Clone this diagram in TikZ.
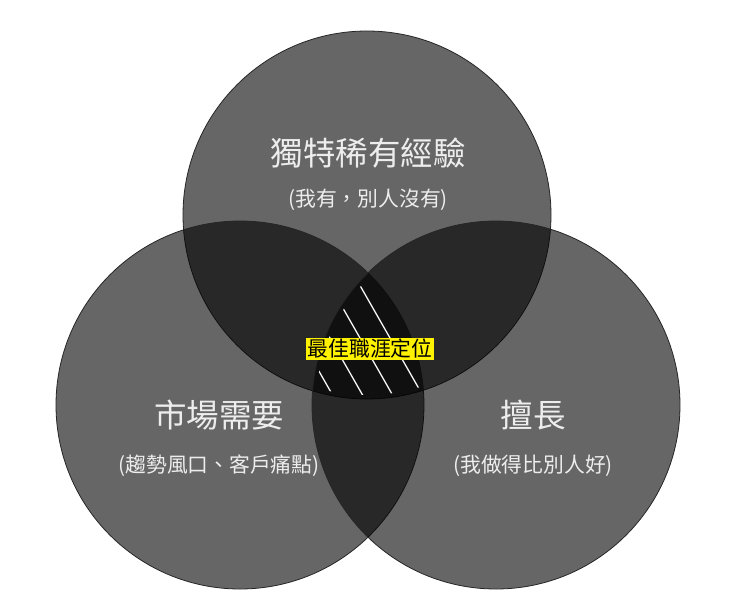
\documentclass[tikz,border=0pt]{standalone}
\usepackage{fontspec}
\newfontfamily\cjk{Noto Sans CJK TC}
\begin{document}
\begin{tikzpicture}[x=1pt,y=-1pt,
  circ/.style={fill=black,fill opacity=0.6,draw=black!85,line width=0.8pt},
  big/.style={text=white!93!black,font=\cjk\fontsize{32.5}{36}\selectfont},
  small/.style={text=white!93!black,font=\cjk\fontsize{20.8}{24}\selectfont},
  hatch/.style={white,line width=1.3pt}]
\useasboundingbox (0,0) rectangle (740,608);
\fill[white] (0,0) rectangle (740,608);
\path[circ] (367,215) circle (184);
\path[circ] (240,405) circle (184);
\path[circ] (496,405) circle (184);
\begin{scope}
  \clip (367,215) circle (180);
  \clip (240,405) circle (180);
  \clip (496,405) circle (180);
  \foreach \o in {0,-30,-60,-90}
    \draw[hatch] (358+\o-100,282-175) -- (358+\o+100,282+175);
\end{scope}
\node[big] (t1) at (368,153) {獨特稀有經驗};
\node[small] (s1) at (368,200) {(我有，別人沒有)};
\node[big] (t2) at (219,415) {市場需要};
\node[small] (s2) at (219,466) {(趨勢風口、客戶痛點)};
\node[big] (t3) at (533,415) {擅長};
\node[small] (s3) at (533,466) {(我做得比別人好)};
\node[fill=yellow,inner sep=1.5pt,font=\cjk\fontsize{20.8}{23}\selectfont] (c) at (370,349) {最佳職涯定位};
\end{tikzpicture}
\end{document}
